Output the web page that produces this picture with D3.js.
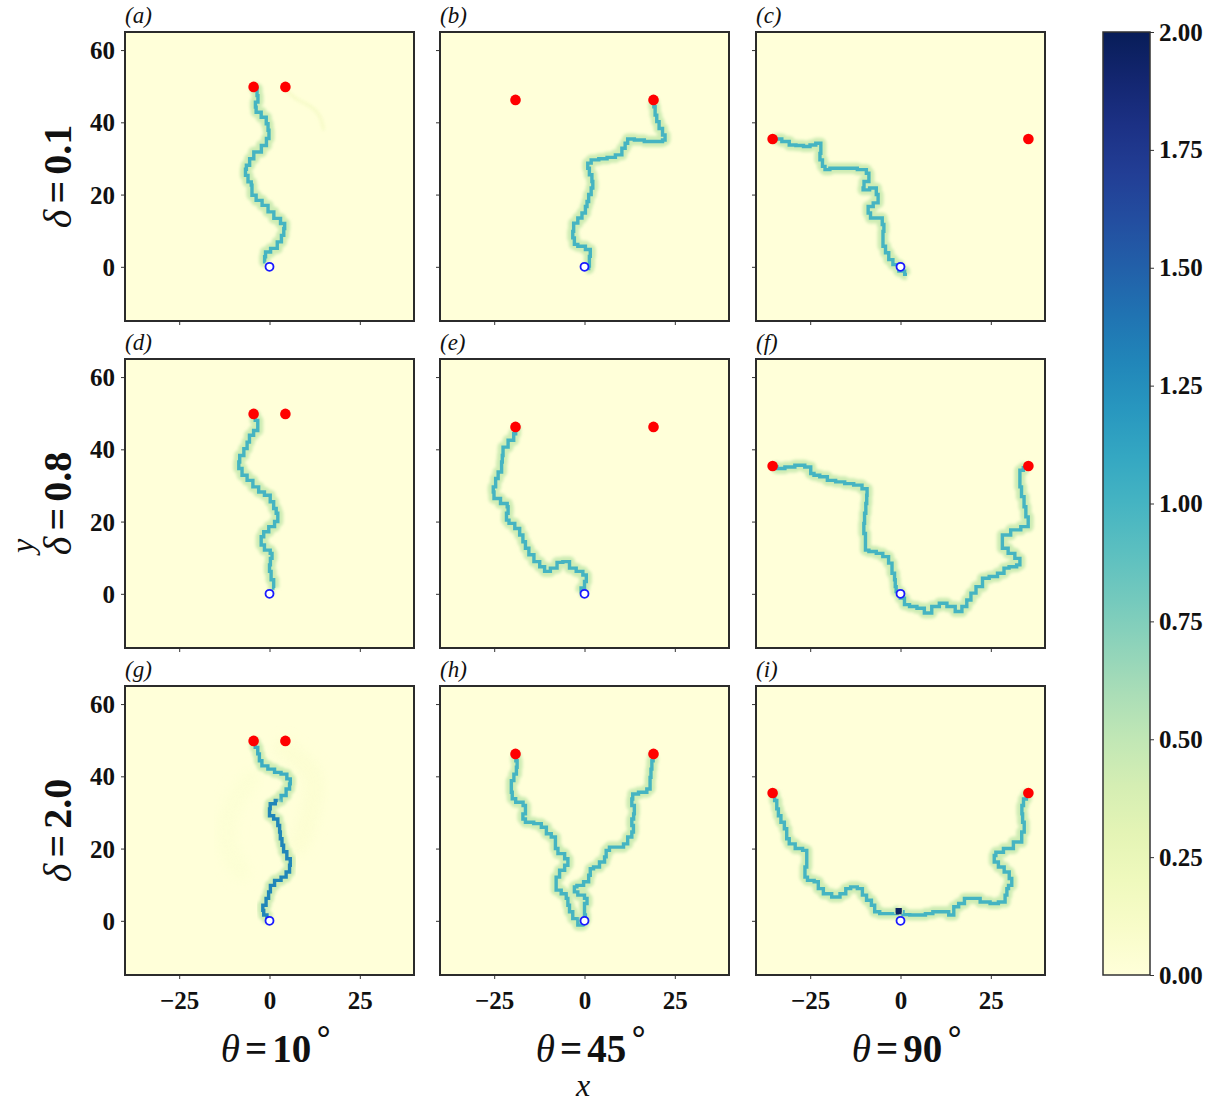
<!DOCTYPE html>
<html>
<head>
<meta charset="utf-8">
<script src="https://cdn.jsdelivr.net/npm/d3@7"></script>
<style>
  body { margin: 0; background: #fff; }
  text { font-family: "Liberation Serif", "Times New Roman", Times, serif; fill: #111; }
</style>
</head>
<body>
<div id="chart"></div>
<script>
// etiquetas de columnas / filas
var thetaLabels = ["10", "45", "90"];
var deltaLabels = ["0.1", "0.8", "2.0"];
var panelLetters = ["a", "b", "c", "d", "e", "f", "g", "h", "i"];
var xTicks = [-25, 0, 25];
var yTicks = [0, 20, 40, 60];
var cbarTicks = [0, 0.25, 0.5, 0.75, 1, 1.25, 1.5, 1.75, 2];

// objetivos (puntos rojos) por columna
var targets10 = [[-4.4, 49.8], [4.4, 49.8]];
var targets45 = [[-19.1, 46.2], [19.1, 46.2]];
var targets90 = [[-35.4, 35.4], [35.4, 35.4]];
var origin = [0, 0];

// trayectorias (x, y)
var pathA = [[-4.2,49.6],[-3.9,49.3],[-3.0,47.4],[-3.4,45.6],[-4.4,44.2],[-3.0,42.8],[-1.6,41.4],[-0.2,39.6],[-0.6,37.8],[0.3,36.8],[-0.6,35.5],[-1.1,33.6],[-3.4,31.8],[-5.3,29.9],[-5.7,28.1],[-7.1,27.0],[-6.2,25.3],[-5.7,23.5],[-4.4,22.6],[-5.3,21.2],[-4.4,19.8],[-3.0,18.4],[-1.1,17.0],[0.3,15.2],[2.1,13.4],[4.0,12.0],[4.4,10.6],[3.5,8.7],[3.1,6.9],[1.2,5.1],[-0.6,4.1],[-1.6,2.8],[-1.1,1.4]];
var pathAFaint = [[4.4,49.3],[6.8,46.5],[11.4,44.7],[14.2,41.9],[14.9,38.2]];
var pathB = [[19.1,45.6],[19.3,44.3],[19.8,42.0],[20.2,40.2],[21.1,38.3],[22.1,36.5],[22.5,35.1],[20.7,34.7],[17.9,34.7],[15.2,35.1],[12.4,35.4],[11.5,34.2],[11.0,32.8],[9.7,31.0],[7.4,30.3],[5.1,29.9],[2.8,29.6],[0.9,28.7],[0.9,27.3],[1.8,25.5],[2.3,23.6],[2.3,21.8],[1.4,20.0],[0.9,18.1],[0.5,16.7],[0.0,14.9],[-1.4,13.5],[-2.3,12.1],[-3.7,9.8],[-2.8,8.0],[-2.8,6.2],[-0.9,5.7],[1.4,4.8],[1.8,2.9],[0.9,1.6],[1.8,0.2],[0.5,-0.5]];
var pathC = [[-35.0,35.4],[-34.0,35.4],[-31.7,34.7],[-29.9,33.7],[-28.0,33.6],[-25.7,33.3],[-24.4,33.7],[-22.5,34.2],[-21.6,33.3],[-22.5,31.4],[-22.1,29.6],[-21.1,27.8],[-20.7,26.9],[-18.4,27.3],[-15.6,27.3],[-13.3,27.3],[-10.6,26.9],[-8.3,25.9],[-9.2,23.6],[-11.0,21.8],[-9.7,21.3],[-7.4,21.8],[-6.0,20.0],[-6.4,17.7],[-8.7,16.7],[-9.2,14.9],[-7.4,13.5],[-5.5,13.5],[-4.6,11.7],[-4.6,9.8],[-5.1,8.0],[-4.6,5.7],[-3.7,3.9],[-2.8,2.0],[-1.4,0.6],[0.5,-1.2],[1.8,-2.1]];
var pathD = [[-4.2,49.4],[-3.7,48.0],[-2.8,46.6],[-3.7,45.2],[-5.1,43.9],[-6.0,42.0],[-6.4,40.2],[-7.8,38.3],[-8.7,36.5],[-8.3,34.7],[-6.9,32.8],[-5.5,31.4],[-3.7,29.6],[-2.3,28.2],[-0.5,27.3],[0.9,25.5],[1.4,23.6],[2.3,22.3],[2.3,20.0],[0.5,18.6],[-0.9,17.2],[-2.3,15.8],[-2.3,13.5],[-0.5,12.1],[0.9,11.2],[0.5,9.8],[0.0,8.0],[0.0,6.2],[0.9,3.9],[1.4,1.6]];
var pathE = [[-19.1,45.6],[-19.0,44.3],[-20.2,42.5],[-22.1,40.6],[-23.0,38.3],[-22.5,36.5],[-23.4,33.7],[-24.4,31.9],[-24.8,29.6],[-25.7,28.2],[-24.4,26.4],[-22.1,25.0],[-20.7,24.1],[-21.6,22.3],[-21.6,20.4],[-20.2,19.5],[-18.4,18.1],[-17.5,16.3],[-16.6,14.4],[-16.1,12.6],[-14.7,10.8],[-13.3,8.9],[-11.5,7.5],[-10.6,6.2],[-8.3,7.1],[-6.9,8.7],[-5.1,8.9],[-3.2,7.1],[-1.4,6.2],[0.5,5.2],[0.5,3.4],[-0.5,1.6],[-1.4,0.6]];
var pathF = [[-35.0,35.2],[-33.4,34.7],[-30.6,35.1],[-27.9,35.6],[-25.1,35.1],[-24.6,33.3],[-23.3,32.8],[-21.4,32.4],[-19.1,31.4],[-16.8,31.0],[-14.1,30.5],[-11.8,30.1],[-9.5,29.1],[-9.0,27.3],[-9.7,25.0],[-9.5,22.3],[-10.4,19.5],[-9.9,16.7],[-9.5,14.9],[-9.9,12.1],[-7.6,11.7],[-5.8,11.2],[-4.0,10.3],[-2.6,8.5],[-2.1,5.7],[-1.2,3.9],[-1.7,2.0],[-0.7,0.6],[0.6,-1.2],[1.6,-3.0],[3.4,-3.5],[5.7,-4.0],[7.5,-5.3],[9.8,-3.5],[11.7,-2.6],[14.0,-3.5],[16.3,-4.9],[17.7,-3.5],[19.0,-1.7],[20.0,0.2],[21.8,2.0],[23.6,4.3],[25.5,4.8],[28.2,5.7],[29.1,7.1],[31.0,7.5],[33.3,8.0],[32.8,9.8],[30.5,11.2],[29.1,12.6],[27.3,14.4],[29.1,16.3],[31.9,17.7],[34.7,18.6],[36.0,19.5],[34.7,21.3],[34.7,24.1],[33.7,26.9],[33.3,29.6],[32.8,32.4],[33.3,34.2],[34.7,34.9]];
var pathGUpper = [[-4.2,49.4],[-3.7,48.0],[-2.8,46.2],[-2.8,44.3],[-1.4,42.9],[0.5,42.0],[2.3,41.1],[4.1,40.6],[5.5,39.3],[6.0,37.9],[5.1,36.5],[4.1,34.7],[2.3,33.3]];
var pathGLower = [[2.3,33.3],[0.9,32.4],[-0.5,31.0],[0.5,29.1],[1.8,28.2],[2.8,26.4],[2.8,24.6],[3.2,22.7],[3.7,20.9],[4.1,19.1],[5.5,17.2],[6.0,15.4],[5.1,13.5],[4.1,12.1],[2.3,11.2],[0.5,9.8],[0.0,8.0],[-0.5,6.2],[-1.4,4.3],[-2.3,2.9],[-0.9,1.6],[-0.5,0.6]];
var pathGFaintR = [[4.0,48.0],[7.8,44.8],[11.5,42.0],[12.9,37.4],[11.5,31.0],[10.1,25.5],[7.8,20.9]];
var pathGFaintL = [[-5.1,39.3],[-9.7,33.7],[-12.4,26.4],[-11.5,19.0],[-7.8,13.5]];
var pathHLeft = [[-19.1,45.6],[-18.9,44.3],[-18.4,42.5],[-19.3,40.6],[-19.8,38.8],[-20.7,37.4],[-19.8,35.6],[-20.2,33.8],[-17.9,32.8],[-16.1,31.9],[-16.6,29.6],[-17.5,28.2],[-15.2,27.3],[-12.9,26.9],[-11.0,25.9],[-10.1,24.1],[-8.3,23.2],[-7.8,21.8],[-8.3,20.0],[-6.4,18.6],[-4.6,17.2],[-4.6,15.4],[-6.4,14.0],[-7.4,12.1],[-8.3,10.3],[-7.4,8.5],[-5.5,7.5],[-4.6,6.2],[-4.6,4.3],[-3.7,2.5],[-2.8,0.6],[-0.9,-1.2],[0.0,-0.5]];
var pathHRight = [[19.1,45.6],[18.9,44.3],[18.4,42.0],[18.4,39.7],[17.9,37.9],[18.4,36.5],[16.1,35.6],[13.8,35.1],[12.9,33.7],[13.3,31.9],[14.3,29.6],[12.9,28.2],[13.3,26.4],[13.8,24.6],[12.4,23.2],[11.5,21.3],[10.1,20.4],[7.8,20.4],[6.0,19.5],[6.0,17.7],[5.1,16.3],[3.2,14.9],[1.8,14.4],[1.4,12.6],[0.9,10.8],[-1.4,9.8],[-2.8,9.4],[-2.8,8.0],[-0.9,7.1],[0.9,6.2],[0.5,4.8],[-0.5,3.4],[0.5,1.6],[0.0,0.2]];
var pathILeft = [[-35.2,35.0],[-34.5,33.3],[-34.0,31.0],[-33.6,29.1],[-32.6,27.3],[-31.7,25.5],[-31.3,22.7],[-30.3,21.3],[-28.0,20.0],[-26.2,19.5],[-25.7,17.2],[-26.2,14.9],[-26.7,12.1],[-24.8,11.2],[-23.0,10.8],[-22.5,8.9],[-20.2,7.5],[-17.9,6.6],[-15.6,7.5],[-14.7,8.9],[-12.9,9.4],[-11.0,8.9],[-10.1,7.1],[-8.7,5.7],[-7.4,4.3],[-6.9,2.5],[-4.6,2.0],[-1.4,2.0],[-0.5,2.7]];
var pathIRight = [[35.2,35.0],[34.5,33.7],[33.6,31.9],[33.6,29.6],[34.0,27.3],[34.5,24.6],[32.6,21.8],[29.9,20.0],[27.1,19.0],[25.7,18.1],[26.2,16.3],[28.0,14.9],[29.4,13.5],[30.8,11.7],[30.8,9.8],[29.0,8.9],[29.9,7.1],[28.0,5.2],[26.2,4.8],[23.4,5.2],[20.7,6.2],[18.4,6.2],[17.0,4.8],[15.2,3.9],[14.3,1.6],[12.4,2.5],[10.1,2.5],[7.8,2.0],[6.0,1.6],[3.7,1.6],[1.4,1.7],[0.0,2.5]];
var pathIDark = [[-1.3,2.2],[-0.5,3.1],[0.3,2.3]];

// intensidad (valor del mapa de color) de cada trayectoria
var panelTracks = [
  [{pts: pathAFaint, v: 0.12, faint: 1}, {pts: pathA, v: 1.0}],
  [{pts: pathB, v: 1.0}],
  [{pts: pathC, v: 1.0}],
  [{pts: pathD, v: 1.0}],
  [{pts: pathE, v: 1.0}],
  [{pts: pathF, v: 1.0}],
  [{pts: pathGFaintR, v: 0.07, faint: 2}, {pts: pathGFaintL, v: 0.05, faint: 2},
   {pts: pathGUpper, v: 1.05}, {pts: pathGLower, v: 1.3}],
  [{pts: pathHLeft, v: 1.0}, {pts: pathHRight, v: 1.0}],
  [{pts: pathILeft, v: 1.0}, {pts: pathIRight, v: 1.0}, {pts: pathIDark, v: 1.95}]
];
var columnTargets = [targets10, targets45, targets90];

//------- layout -------
var width = 1224, height = 1102;
var colX = [125, 440, 756], rowY = [32, 359, 686];
var pw = 289, ph = 289;
var cbar = {x: 1103, y: 32, w: 47, h: 943};

var color = function(v) { return d3.interpolateYlGnBu(v / 2); };

var svg = d3.select("#chart").append("svg")
  .attr("width", width)
  .attr("height", height);

var defs = svg.append("defs");
defs.append("filter").attr("id", "blur")
  .attr("x", "-20%").attr("y", "-20%").attr("width", "140%").attr("height", "140%")
  .append("feGaussianBlur").attr("stdDeviation", 1.4);
defs.append("filter").attr("id", "blurBig")
  .attr("x", "-50%").attr("y", "-50%").attr("width", "200%").attr("height", "200%")
  .append("feGaussianBlur").attr("stdDeviation", 6);

var x = d3.scaleLinear().domain([-40, 40]).range([0, pw]);
var y = d3.scaleLinear().domain([-15, 65]).range([ph, 0]);

var stepLine = d3.line()
  .x(function(d) { return x(d[0]); })
  .y(function(d) { return y(d[1]); })
  .curve(d3.curveStep);
var smoothLine = d3.line()
  .x(function(d) { return x(d[0]); })
  .y(function(d) { return y(d[1]); })
  .curve(d3.curveBasis);

panelLetters.forEach(function(letter, i) {
  var col = i % 3, row = Math.floor(i / 3);
  var g = svg.append("g").attr("transform", "translate(" + colX[col] + "," + rowY[row] + ")");

  defs.append("clipPath").attr("id", "clip" + i)
    .append("rect").attr("width", pw).attr("height", ph);

  g.append("rect").attr("width", pw).attr("height", ph).attr("fill", color(0));

  var plot = g.append("g").attr("clip-path", "url(#clip" + i + ")");

  panelTracks[i].forEach(function(t) {
    if (t.faint) {
      // rastro tenue
      plot.append("path").datum(t.pts)
        .attr("d", smoothLine)
        .attr("fill", "none")
        .attr("stroke", color(t.v))
        .attr("stroke-width", t.faint === 1 ? 4 : 20)
        .attr("stroke-linecap", "round")
        .attr("opacity", t.faint === 1 ? 0.8 : 0.6)
        .attr("filter", t.faint === 1 ? "url(#blur)" : "url(#blurBig)");
      return;
    }
    // halo claro alrededor del camino
    plot.append("path").datum(t.pts)
      .attr("d", stepLine)
      .attr("fill", "none")
      .attr("stroke", d3.interpolateYlGnBu(0.22))
      .attr("stroke-width", 11)
      .attr("stroke-linejoin", "round")
      .attr("opacity", 1)
      .attr("filter", "url(#blur)");
    plot.append("path").datum(t.pts)
      .attr("d", stepLine)
      .attr("fill", "none")
      .attr("stroke", color(t.v))
      .attr("stroke-width", 3.4)
      .attr("stroke-linejoin", "miter");
  });

  // objetivos
  plot.selectAll("circle.target")
    .data(columnTargets[col])
    .enter().append("circle")
    .attr("class", "target")
    .attr("cx", function(d) { return x(d[0]); })
    .attr("cy", function(d) { return y(d[1]); })
    .attr("r", 5.3)
    .attr("fill", "#ff0000");

  // origen
  plot.append("circle")
    .attr("cx", x(origin[0])).attr("cy", y(origin[1]))
    .attr("r", 4)
    .attr("fill", "#fff")
    .attr("stroke", "#1a1aff")
    .attr("stroke-width", 1.8);

  // ejes
  var ax = g.append("g").attr("transform", "translate(0," + ph + ")")
    .call(d3.axisBottom(x).tickValues(xTicks).tickSize(4).tickPadding(6)
      .tickFormat(row === 2 ? d3.format("d") : function() { return ""; }));
  var ay = g.append("g")
    .call(d3.axisLeft(y).tickValues(yTicks).tickSize(4).tickPadding(6)
      .tickFormat(col === 0 ? d3.format("d") : function() { return ""; }));
  [ax, ay].forEach(function(a) {
    a.attr("font-family", null);
    a.select(".domain").remove();
    a.selectAll(".tick line").attr("stroke", "#333").attr("stroke-width", 1);
    a.selectAll(".tick text")
      .style("font-weight", "bold")
      .style("font-size", "25px")
      .attr("fill", "#111");
  });
  ax.selectAll(".tick text").attr("dy", "0.95em");
  ay.selectAll(".tick text").attr("dy", "0.34em");

  // marco
  g.append("rect").attr("width", pw).attr("height", ph)
    .attr("fill", "none").attr("stroke", "#2b2b2b").attr("stroke-width", 2);

  // letra del panel
  g.append("text")
    .attr("x", 0).attr("y", -9)
    .style("font-style", "italic")
    .style("font-size", "23px")
    .text("(" + letter + ")");
});

// etiquetas de fila (delta)
deltaLabels.forEach(function(lbl, r) {
  var t = svg.append("text")
    .attr("transform", "translate(71," + (rowY[r] + ph / 2) + ") rotate(-90)")
    .attr("text-anchor", "middle")
    .style("font-size", "40px");
  t.append("tspan").style("font-style", "italic").text("δ");
  t.append("tspan").attr("dx", 6).style("font-weight", "bold").text("=");
  t.append("tspan").attr("dx", 6).style("font-weight", "bold").text(lbl);
});

// etiquetas de columna (theta)
thetaLabels.forEach(function(lbl, c) {
  var t = svg.append("text")
    .attr("x", colX[c] + pw / 2 + 8).attr("y", 1062)
    .attr("text-anchor", "middle")
    .style("font-size", "39px");
  t.append("tspan").style("font-style", "italic").text("θ");
  t.append("tspan").attr("dx", 5).style("font-weight", "bold").text("=");
  t.append("tspan").attr("dx", 5).style("font-weight", "bold").text(lbl);
  t.append("tspan").attr("dx", 2).attr("dy", -20).style("font-size", "34px").text("∘");
});

// etiquetas de ejes x, y
svg.append("text")
  .attr("x", 583).attr("y", 1096)
  .attr("text-anchor", "middle")
  .style("font-style", "italic")
  .style("font-size", "32px")
  .text("x");
svg.append("text")
  .attr("transform", "translate(33,546) rotate(-90)")
  .attr("text-anchor", "middle")
  .style("font-style", "italic")
  .style("font-size", "32px")
  .text("y");

// barra de color
var cScale = d3.scaleLinear().domain([0, 2]).range([cbar.h, 0]);
var grad = defs.append("linearGradient").attr("id", "cgrad")
  .attr("x1", 0).attr("y1", 1).attr("x2", 0).attr("y2", 0);
d3.range(0, 1.0001, 0.05).forEach(function(s) {
  grad.append("stop").attr("offset", s).attr("stop-color", d3.interpolateYlGnBu(s));
});
var cg = svg.append("g").attr("transform", "translate(" + cbar.x + "," + cbar.y + ")");
cg.append("rect").attr("width", cbar.w).attr("height", cbar.h).attr("fill", "url(#cgrad)")
  .attr("stroke", "#333").attr("stroke-width", 1.5);
var cax = cg.append("g").attr("transform", "translate(" + cbar.w + ",0)")
  .call(d3.axisRight(cScale).tickValues(cbarTicks).tickSize(4).tickPadding(5)
    .tickFormat(d3.format(".2f")));
cax.attr("font-family", null);
cax.select(".domain").remove();
cax.selectAll(".tick line").attr("stroke", "#333");
cax.selectAll(".tick text")
  .style("font-weight", "bold")
  .style("font-size", "25px")
  .attr("fill", "#111");
</script>
</body>
</html>
